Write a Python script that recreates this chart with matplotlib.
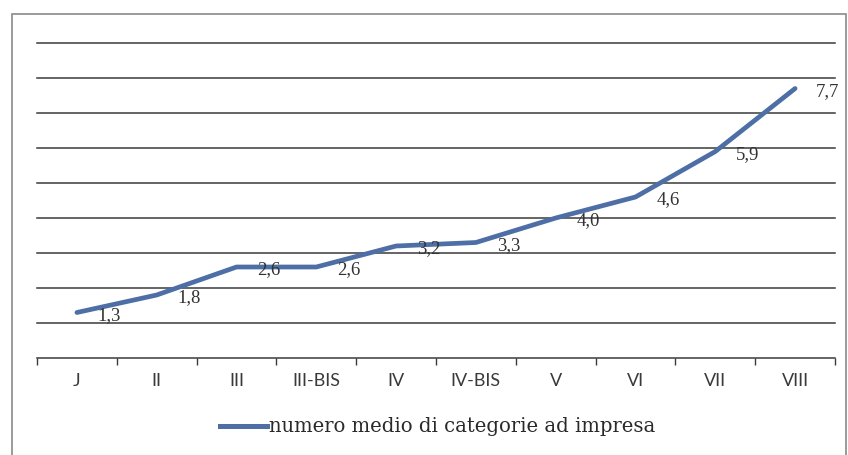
import matplotlib
matplotlib.use("Agg")
import matplotlib.pyplot as plt
from matplotlib.patches import Rectangle
from matplotlib.lines import Line2D

categories = ["J", "II", "III", "III-BIS", "IV", "IV-BIS", "V", "VI", "VII", "VIII"]
values = [1.3, 1.8, 2.6, 2.6, 3.2, 3.3, 4.0, 4.6, 5.9, 7.7]
value_labels = ["1,3", "1,8", "2,6", "2,6", "3,2", "3,3", "4,0", "4,6", "5,9", "7,7"]
series_name = "numero medio di categorie ad impresa"

W, H = 848, 455
fig = plt.figure(figsize=(W / 100, H / 100), dpi=100)
fig.patch.set_facecolor("white")

serif = ["Liberation Serif", "DejaVu Serif"]
legend_serif = ["DejaVu Serif"]
sans = ["Lato", "DejaVu Sans"]
line_color = "#4d6fa6"

# chart frame
fig.patches.append(Rectangle((12 / W, -0.05), (846 - 12) / W, 1.05 - 14 / H,
                             transform=fig.transFigure, fill=False,
                             edgecolor="#8a8a8a", linewidth=1.2))

ax = fig.add_axes([37 / W, (H - 358) / H, (835 - 37) / W, (358 - 43) / H])
x = list(range(len(categories)))
ax.set_xlim(-0.5, len(categories) - 0.5)
ax.set_ylim(0, 9)
ax.set_yticks(range(1, 10))
ax.yaxis.grid(True, color="#3a3a3a", linewidth=1.1)
for gl in ax.get_ygridlines():
    gl.set_clip_on(False)
ax.tick_params(axis="y", left=False, labelleft=False)
for s in ["left", "right", "top"]:
    ax.spines[s].set_visible(False)
ax.spines["bottom"].set_color("#3a3a3a")
ax.spines["bottom"].set_linewidth(1.1)

ax.set_xticks([i - 0.5 for i in range(len(categories) + 1)], minor=False)
ax.set_xticklabels([])
ax.tick_params(axis="x", direction="out", length=5, color="#3a3a3a", width=1)
ax.set_xticks(x, minor=True)
ax.set_xticklabels(categories, minor=True, fontfamily=sans, fontsize=13, color="#3a3a3a")
ax.tick_params(axis="x", which="minor", length=0, pad=11)

ax.plot(x, values, color=line_color, linewidth=3.4, solid_capstyle="round",
        solid_joinstyle="round", zorder=3)

for xi, v, lab in zip(x, values, value_labels):
    ax.annotate(lab, (xi, v), xytext=(15, -2), textcoords="offset points",
                ha="left", va="center", fontfamily=serif, fontsize=13.5, color="#333333")

ax.set_axisbelow(True)

# legend
handle = Line2D([], [], color=line_color, linewidth=3.6)
leg = fig.legend([handle], [series_name], loc="center", bbox_to_anchor=(438 / W, 1 - 427 / H),
                 frameon=False, handlelength=2.4, handletextpad=0.1,
                 prop={"family": legend_serif, "size": 14.1})
for t in leg.get_texts():
    t.set_color("#2a2a2a")

fig.savefig("out.png", dpi=100, facecolor="white")
